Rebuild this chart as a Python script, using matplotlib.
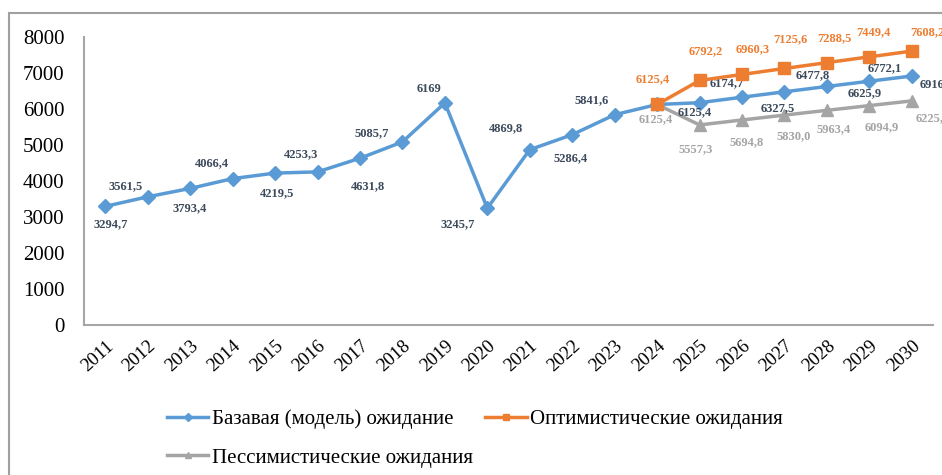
import matplotlib
matplotlib.use('Agg')
import matplotlib.pyplot as plt
from matplotlib.patches import Rectangle

plt.rcParams['font.family'] = ['Liberation Serif', 'DejaVu Serif']

years = [str(y) for y in range(2011, 2031)]

# базовый сценарий 2011-2030
base = [3294.7, 3561.5, 3793.4, 4066.4, 4219.5, 4253.3, 4631.8, 5085.7, 6169,
        3245.7, 4869.8, 5286.4, 5841.6, 6125.4, 6174.7, 6327.5, 6477.8,
        6625.9, 6772.1, 6916.0]
# сценарии 2024-2030
optim = [6125.4, 6792.2, 6960.3, 7125.6, 7288.5, 7449.4, 7608.2]
pessim = [6125.4, 5557.3, 5694.8, 5830.0, 5963.4, 6094.9, 6225.7]
forecast_start = 13  # index of 2024

# label offsets in pixels (dx, dy)
base_off = [(5, -18), (-22, 11), (0, -20), (-21, 15), (2, -20), (-16, 18),
            (8, -28), (-31, 9), (-16, 14), (-30, -16), (-24, 22), (-2, -23),
            (-23, 15), (38, -8), (27, 20), (36, -11), (28, 17), (38, -7),
            (15, 13), (25, -8)]
optim_off = [(-4, 25), (6, 29), (11, 25), (6, 29), (8, 24), (4, 25), (16, 19)]
pessim_off = [(-1, -15), (-4, -24), (5, -22), (9, -21), (7, -19), (12, -22), (21, -17)]

blue = '#5B9BD5'
orange = '#ED7D31'
gray = '#A5A5A5'


def fmt(v):
    if isinstance(v, int):
        return str(v)
    return f'{v:.1f}'.replace('.', ',')


fig = plt.figure(figsize=(9.42, 4.75), dpi=100)
ax = fig.add_axes([0.0892, 0.3158, 0.9013, 0.6063])

x_all = list(range(len(years)))
x_fc = x_all[forecast_start:]

l1, = ax.plot(x_all, base, color=blue, marker='D', markersize=7, linewidth=2.5,
              label='Базавая (модель) ожидание', zorder=3)
l3, = ax.plot(x_fc, pessim, color=gray, marker='^', markersize=8, linewidth=2.5,
              label='Пессимистические ожидания', zorder=2)
l2, = ax.plot(x_fc, optim, color=orange, marker='s', markersize=8, linewidth=2.5,
              label='Оптимистические ожидания', zorder=4)

for xi, v, off in zip(x_all, base, base_off):
    ax.annotate(fmt(v), (xi, v), xytext=off, textcoords='offset pixels',
                ha='center', va='center', fontsize=9, fontweight='bold',
                color='#3C4A5C', annotation_clip=False)
for xi, v, off in zip(x_fc, optim, optim_off):
    ax.annotate(fmt(v), (xi, v), xytext=off, textcoords='offset pixels',
                ha='center', va='center', fontsize=9, fontweight='bold',
                color=orange, annotation_clip=False)
for xi, v, off in zip(x_fc, pessim, pessim_off):
    ax.annotate(fmt(v), (xi, v), xytext=off, textcoords='offset pixels',
                ha='center', va='center', fontsize=9, fontweight='bold',
                color=gray, annotation_clip=False)

ax.set_xlim(-0.5, len(years) - 0.5)
ax.set_ylim(0, 8000)
ax.set_yticks(range(0, 8001, 1000))
ax.set_xticks(x_all)
ax.set_xticklabels(years, rotation=42, ha='right', rotation_mode='anchor')
ax.tick_params(axis='x', length=0, labelsize=13.5, pad=9)
ax.tick_params(axis='y', length=0, labelsize=15, pad=14)

for s in ['top', 'right']:
    ax.spines[s].set_visible(False)
for s in ['left', 'bottom']:
    ax.spines[s].set_color('#A6A6A6')
    ax.spines[s].set_linewidth(1.5)

fig.legend(handles=[l1, l3, l2], ncol=2, loc='upper left',
           bbox_to_anchor=(0.177, 0.138), frameon=False, fontsize=15,
           handlelength=2.0, handletextpad=0.15, columnspacing=0.6,
           labelspacing=0.9, borderaxespad=0, borderpad=0, markerscale=0.6)

# рамка вокруг диаграммы
fig.patches.append(Rectangle((9 / 942, -0.1), 1.2, 1 - 13 / 475 + 0.1,
                             transform=fig.transFigure, fill=False,
                             edgecolor='#A0A0A0', linewidth=1.5))

fig.savefig('out.png', dpi=100)
